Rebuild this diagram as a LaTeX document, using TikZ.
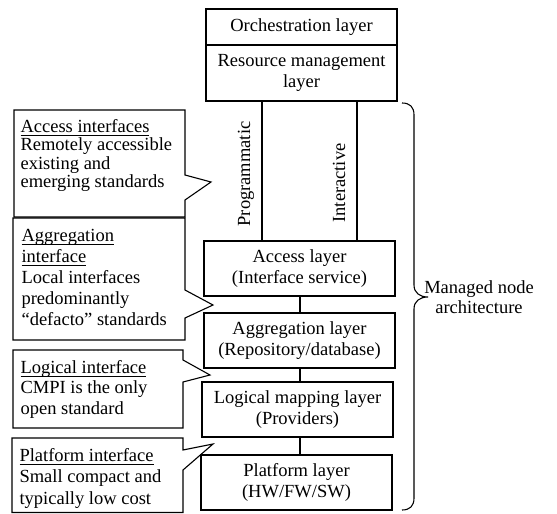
\documentclass[tikz,border=0pt]{standalone}
\usepackage{fontspec}
\setmainfont{Liberation Serif}
\newcommand\ulhead[1]{\setbox0\hbox{#1}\rlap{\rule[-3.5pt]{\wd0}{1pt}}\box0}
\begin{document}
\begin{tikzpicture}[x=1pt,y=-1pt,line width=1.1pt,
  layerbox/.style={draw,rectangle,minimum width=191pt,inner sep=0pt,align=center,
    font=\fontsize{18.5}{21.5}\selectfont},
  notetext/.style={anchor=base west,inner sep=0pt,align=left},
  callout/.style={draw,line join=miter},
  sidelabel/.style={rotate=90,anchor=base,inner sep=0pt,font=\fontsize{18.5}{21}\selectfont}]
\useasboundingbox (0,0) rectangle (557,514);
\fill[white] (0,0) rectangle (557,514);

% layer stack
\node[layerbox,minimum height=36pt] (orch) at (301.5,27) {Orchestration layer};
\node[layerbox,minimum height=56pt] (rm) at (301.5,73) {Resource management\\layer};
\node[layerbox,minimum height=55pt] (acc) at (299.5,268.5) {Access layer\\(Interface service)};
\node[layerbox,minimum height=55pt] (agg) at (299.5,340.5) {Aggregation layer\\(Repository/database)};
\node[layerbox,minimum height=55pt] (lmap) at (297.5,409.5) {Logical mapping layer\\(Providers)};
\node[layerbox,minimum height=55pt] (plat) at (296.5,482.5) {Platform layer\\(HW/FW/SW)};

% programmatic and interactive channels
\coordinate (chanP) at (262,0);
\coordinate (chanI) at (357,0);
\draw (rm.south -| chanP) -- (acc.north -| chanP);
\draw (rm.south -| chanI) -- (acc.north -| chanI);
\node[sidelabel] (prog) at (250,174) {Programmatic};
\node[sidelabel] (inter) at (345,183) {Interactive};

% links between the lower layers
\coordinate (spine) at (300,0);
\draw (acc.south -| spine) -- (agg.north -| spine);
\draw (agg.south -| spine) -- (lmap.north -| spine);
\draw (lmap.south -| spine) -- (plat.north -| spine);

% interface callouts (text anchored on the baseline of the last line)
\draw[callout] (14,110) -- (185,110) -- (185,175) -- (211,182) -- (185,200) -- (185,217) -- (14,217) -- cycle;
\node[notetext,font=\fontsize{18.5}{18.5}\selectfont] (c1) at (20,187.5)
  {\ulhead{Access interfaces}\\Remotely accessible\\existing and\\emerging standards};

\draw[callout] (13,218) -- (185,218) -- (185,290) -- (213,305) -- (185,318) -- (185,340) -- (13,340) -- cycle;
\node[notetext,font=\fontsize{18.5}{20.8}\selectfont] (c2) at (21,325)
  {\ulhead{Aggregation}\\\ulhead{interface}\\Local interfaces\\predominantly\\``defacto'' standards};

\draw[callout] (13,350) -- (183,350) -- (183,360) -- (210,375) -- (183,382) -- (183,428) -- (13,428) -- cycle;
\node[notetext,font=\fontsize{18.5}{20.5}\selectfont] (c3) at (20,414)
  {\ulhead{Logical interface}\\CMPI is the only\\open standard};

\draw[callout] (12,438) -- (183,438) -- (183,450) -- (213,444) -- (183,470) -- (183,512.5) -- (12,512.5) -- cycle;
\node[notetext,font=\fontsize{18.5}{21.5}\selectfont] (c4) at (19,504)
  {\ulhead{Platform interface}\\Small compact and\\typically low cost};

% managed node brace
\draw (402,103) .. controls (410,103) and (414,107) .. (414,115) -- (414,285)
  .. controls (414,293) and (420,297) .. (428,297)
  .. controls (420,297) and (414,301) .. (414,309) -- (414,498)
  .. controls (414,506) and (410,510) .. (402,510);
\node[align=center,inner sep=0pt,font=\fontsize{18.5}{19.5}\selectfont] (mna) at (479,297) {Managed node\\architecture};
\end{tikzpicture}
\end{document}
